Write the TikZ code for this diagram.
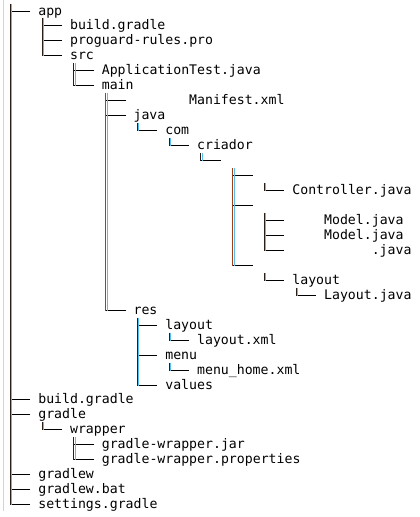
\documentclass[tikz,border=0pt]{standalone}
\usepackage{fontspec}
\newfontfamily\treefont{DejaVu Sans Mono}
\definecolor{vdarkc}{HTML}{2A1E16}
\definecolor{vredc}{HTML}{A3401A}
\definecolor{vbluec}{HTML}{55BDF0}
\definecolor{edgec}{HTML}{D4D4D4}
\newcommand\treeitem[5]{%
  \coordinate (#1-j) at ({6.55+7.94*#3+3.97},{-(11+14.96*#2)});
  \coordinate (#1-e) at ({6.55+7.94*(#3+3)},{-(11+14.96*#2)});
  \node[txt] (#1) at ({6.55+7.94*#4},{-(15+14.96*#2)}) {#5};
  \draw[hline] (#1-j) -- (#1-e);
}
\newcommand\treevert[2]{% first child, last child (dark line with blue fringe)
  \draw[line width=0.6pt,vbluec] ([xshift=0.8pt,yshift=7.48pt]#1-j) -- ([xshift=0.8pt,yshift=-0.5pt]#2-j);
  \draw[vline,vdarkc] ([xshift=-0.2pt,yshift=7.48pt]#1-j) -- ([xshift=-0.2pt,yshift=-0.5pt]#2-j);
}
\newcommand\treevertred[2]{% first child, last child (red-brown line)
  \draw[line width=0.4pt,vbluec] ([xshift=0.9pt,yshift=7.48pt]#1-j) -- ([xshift=0.9pt,yshift=-0.5pt]#2-j);
  \draw[line width=1.3pt,vredc] ([xshift=-0.1pt,yshift=7.48pt]#1-j) -- ([xshift=-0.1pt,yshift=-0.5pt]#2-j);
}
\begin{document}
\begin{tikzpicture}[x=1pt,y=1pt,
  txt/.style={anchor=base west,inner sep=0pt,outer sep=0pt,font=\treefont\fontsize{13.2}{15}\selectfont,text=black},
  hline/.style={draw=black,line width=1pt},
  vline/.style={line width=1pt}]
\useasboundingbox (0,0) rectangle (420,-517);
\fill[white] (0,0) rectangle (420,-517);
\draw[edgec,line width=1pt] (3.2,0) -- (3.2,-510.5);
% entries: name, row, connector column, text column, text
\treeitem{app}{0}{0}{4}{app}
\treeitem{bga}{1}{4}{8}{build.gradle}
\treeitem{prg}{2}{4}{8}{proguard-rules.pro}
\treeitem{src}{3}{4}{8}{src}
\treeitem{apt}{4}{8}{12}{ApplicationTest.java}
\treeitem{main}{5}{8}{12}{main}
\treeitem{man}{6}{12}{23}{Manifest.xml}
\treeitem{java}{7}{12}{16}{java}
\treeitem{com}{8}{16}{20}{com}
\treeitem{cri}{9}{20}{24}{criador}
\treeitem{bk}{10}{24}{28}{}
\treeitem{bka}{11}{28}{32}{}
\treeitem{ctl}{12}{32}{36}{Controller.java}
\treeitem{bkb}{13}{28}{32}{}
\treeitem{moa}{14}{32}{40}{Model.java}
\treeitem{mob}{15}{32}{40}{Model.java}
\treeitem{moc}{16}{32}{46}{.java}
\treeitem{bkc}{17}{28}{32}{}
\treeitem{lay}{18}{32}{36}{layout}
\treeitem{layj}{19}{36}{40}{Layout.java}
\treeitem{res}{20}{12}{16}{res}
\treeitem{rlay}{21}{16}{20}{layout}
\treeitem{rlx}{22}{20}{24}{layout.xml}
\treeitem{menu}{23}{16}{20}{menu}
\treeitem{mhx}{24}{20}{24}{menu\_home.xml}
\treeitem{val}{25}{16}{20}{values}
\treeitem{bgb}{26}{0}{4}{build.gradle}
\treeitem{gra}{27}{0}{4}{gradle}
\treeitem{wra}{28}{4}{8}{wrapper}
\treeitem{gwj}{29}{8}{12}{gradle-wrapper.jar}
\treeitem{gwp}{30}{8}{12}{gradle-wrapper.properties}
\treeitem{gw}{31}{0}{4}{gradlew}
\treeitem{gwb}{32}{0}{4}{gradlew.bat}
\treeitem{set}{33}{0}{4}{settings.gradle}
% vertical trunks
\treevert{app}{set}
\treevert{bga}{src}
\treevert{apt}{main}
\treevertred{man}{res}
\treevert{com}{com}
\treevert{cri}{cri}
\treevert{bk}{bk}
\treevertred{bka}{bkc}
\treevert{ctl}{ctl}
\treevert{moa}{moc}
\treevert{lay}{lay}
\treevert{layj}{layj}
\treevert{rlay}{val}
\treevert{rlx}{rlx}
\treevert{mhx}{mhx}
\treevert{wra}{wra}
\treevert{gwj}{gwp}
\end{tikzpicture}
\end{document}
